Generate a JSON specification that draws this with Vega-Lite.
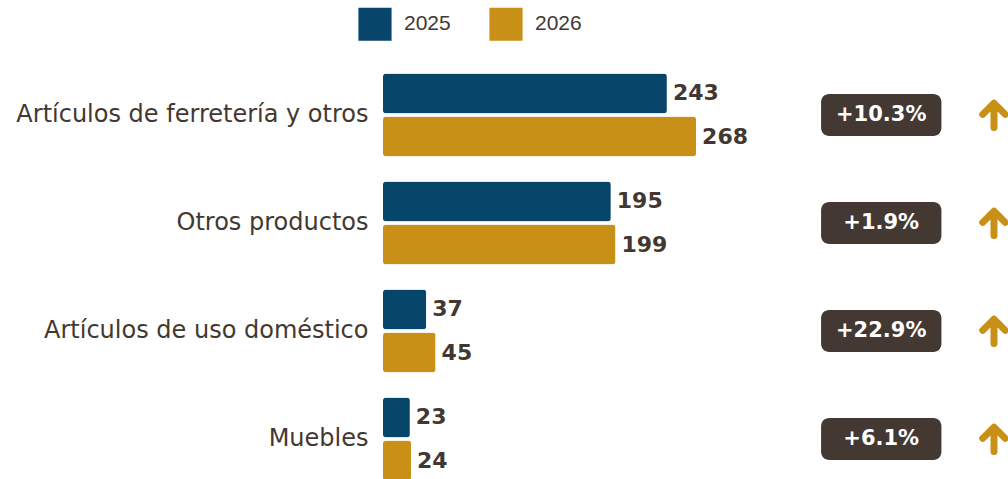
{
  "$schema": "https://vega.github.io/schema/vega-lite/v6.json",
  "width": 625,
  "height": 418,
  "autosize": {"type": "none"},
  "padding": {"left": 383, "top": 61, "right": 0, "bottom": 0},
  "background": "white",
  "config": {"view": {"stroke": null}},
  "datasets": {
    "bars": [
      {"categoria": "Artículos de ferretería y otros", "anio": "2025", "valor": 243},
      {"categoria": "Artículos de ferretería y otros", "anio": "2026", "valor": 268},
      {"categoria": "Otros productos", "anio": "2025", "valor": 195},
      {"categoria": "Otros productos", "anio": "2026", "valor": 199},
      {"categoria": "Artículos de uso doméstico", "anio": "2025", "valor": 37},
      {"categoria": "Artículos de uso doméstico", "anio": "2026", "valor": 45},
      {"categoria": "Muebles", "anio": "2025", "valor": 23},
      {"categoria": "Muebles", "anio": "2026", "valor": 24}
    ],
    "cambios": [
      {"categoria": "Artículos de ferretería y otros", "cambio": "+10.3%"},
      {"categoria": "Otros productos", "cambio": "+1.9%"},
      {"categoria": "Artículos de uso doméstico", "cambio": "+22.9%"},
      {"categoria": "Muebles", "cambio": "+6.1%"}
    ]
  },
  "layer": [
    {
      "data": {"name": "bars"},
      "mark": {"type": "bar", "cornerRadius": 3},
      "encoding": {
        "y": {
          "field": "categoria", "type": "nominal",
          "scale": {
            "domain": ["Artículos de ferretería y otros", "Otros productos", "Artículos de uso doméstico", "Muebles"],
            "range": [0, 432], "paddingInner": 0.231, "paddingOuter": 0.1157
          },
          "axis": {
            "title": null, "domain": false, "ticks": false, "labelPadding": 15,
            "labelFont": "DejaVu Sans", "labelFontSize": 24, "labelColor": "#433831", "labelLimit": 400
          }
        },
        "yOffset": {"field": "anio", "type": "nominal", "scale": {"paddingInner": 0.072, "paddingOuter": 0}},
        "x": {"field": "valor", "type": "quantitative", "scale": {"domain": [0, 535], "nice": false}, "axis": null},
        "color": {
          "field": "anio", "type": "nominal",
          "scale": {"domain": ["2025", "2026"], "range": ["#07466A", "#C99017"]},
          "legend": {
            "title": null, "orient": "none", "direction": "horizontal", "legendX": -25, "legendY": -54,
            "symbolType": "square", "symbolSize": 1100, "symbolStrokeWidth": 0, "symbolOpacity": 1,
            "labelFont": "Liberation Sans", "labelFontSize": 21, "labelColor": "#433831", "labelOffset": 12,
            "columnPadding": 38
          }
        }
      }
    },
    {
      "data": {"name": "bars"},
      "mark": {"type": "text", "align": "left", "baseline": "middle", "dx": 6, "font": "DejaVu Sans", "fontWeight": "bold", "fontSize": 22, "color": "#433831"},
      "encoding": {
        "y": {"field": "categoria", "type": "nominal"},
        "yOffset": {"field": "anio", "type": "nominal"},
        "x": {"field": "valor", "type": "quantitative"},
        "text": {"field": "valor", "type": "quantitative"}
      }
    },
    {
      "data": {"name": "cambios"},
      "mark": {"type": "bar", "height": 42, "cornerRadius": 8, "color": "#443932"},
      "encoding": {
        "y": {"field": "categoria", "type": "nominal"},
        "x": {"datum": 375},
        "x2": {"datum": 478}
      }
    },
    {
      "data": {"name": "cambios"},
      "mark": {"type": "text", "align": "center", "baseline": "middle", "font": "DejaVu Sans", "fontWeight": "bold", "fontSize": 21, "color": "white"},
      "encoding": {
        "y": {"field": "categoria", "type": "nominal"},
        "x": {"datum": 426.5},
        "text": {"field": "cambio", "type": "nominal"}
      }
    },
    {
      "data": {"name": "cambios"},
      "mark": {"type": "point", "shape": "M0,1 L0,-0.85 M-0.9,-0.05 L0,-0.95 L0.9,-0.05", "filled": false, "size": 625, "stroke": "#C99017", "strokeWidth": 7, "strokeCap": "round", "strokeJoin": "round", "opacity": 1},
      "encoding": {
        "y": {"field": "categoria", "type": "nominal"},
        "x": {"datum": 523}
      }
    }
  ]
}
